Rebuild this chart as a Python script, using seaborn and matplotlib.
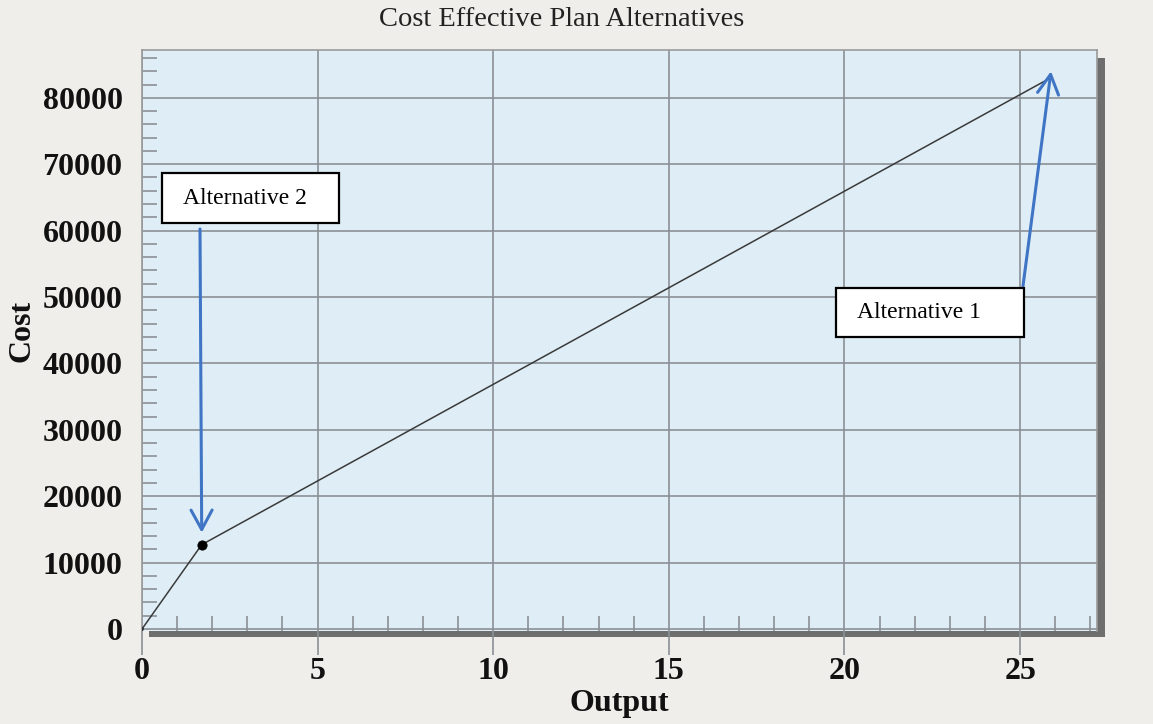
import matplotlib
matplotlib.use("Agg")
import matplotlib.pyplot as plt
from matplotlib.patches import Rectangle
from matplotlib.ticker import MultipleLocator
import seaborn as sns
import pandas as pd

# Cost-effectiveness frontier: output vs cost for the plan alternatives
output = [0.0, 1.7, 25.9]
cost = [0, 12700, 83100]
point_labels = ["Origin", "Alternative 2", "Alternative 1"]

title = "Cost Effective Plan Alternatives"
x_label = "Output"
y_label = "Cost"
x_ticks = [0, 5, 10, 15, 20, 25]
y_ticks = [0, 10000, 20000, 30000, 40000, 50000, 60000, 70000, 80000]

df = pd.DataFrame({"Output": output, "Cost": cost, "Label": point_labels})

sns.set_theme(style="white")
plt.rcParams["font.family"] = ["Liberation Serif", "DejaVu Serif"]

W, H = 1153, 724
fig = plt.figure(figsize=(W / 100, H / 100), dpi=100)
fig.patch.set_facecolor("#f0eeea")


def fx(px):
    return px / W


def fy(py):
    return 1 - py / H


# plot frame in pixel terms
L, R, T, B = 142, 1097, 50, 631
ax = fig.add_axes([fx(L), fy(B), fx(R - L), (B - T) / H])
ax.set_facecolor("#dfeef6")

# drop shadow behind the plot frame
shadow = Rectangle((fx(L + 7), fy(B + 6)), fx(R - L + 1), (B - T - 2) / H,
                   transform=fig.transFigure, facecolor="#6e6e6e",
                   edgecolor="none", zorder=-1)
fig.patches.append(shadow)

sns.lineplot(data=df, x="Output", y="Cost", ax=ax, color="#3a3a3a",
             linewidth=1.1, zorder=3, sort=False)
sns.scatterplot(data=df.iloc[[1]], x="Output", y="Cost", ax=ax,
                color="black", s=45, zorder=4, edgecolor="black")
sns.scatterplot(data=df.iloc[[0]], x="Output", y="Cost", ax=ax,
                color="#333333", s=8, zorder=4, edgecolor="none")

ax.set_xlim(0, 27.19)
ax.set_ylim(-300, 87200)
ax.set_xticks(x_ticks)
ax.set_yticks(y_ticks)
ax.xaxis.set_minor_locator(MultipleLocator(1))
ax.yaxis.set_minor_locator(MultipleLocator(2000))

grid_col = "#8a9095"
ax.grid(True, which="major", color=grid_col, linewidth=1.2, zorder=1)
ax.set_axisbelow(True)

for side in ("left", "top", "right"):
    ax.spines[side].set_color("#9a9a9a")
    ax.spines[side].set_linewidth(1.2)
ax.spines["bottom"].set_visible(False)

ax.tick_params(axis="y", which="major", direction="out", length=10,
               width=1.2, color=grid_col, pad=4, labelsize=23,
               labelcolor="#111111")
ax.tick_params(axis="x", which="major", direction="out", length=17,
               width=1.2, color=grid_col, pad=2, labelsize=23,
               labelcolor="#111111", bottom=True)
ax.tick_params(axis="both", which="minor", direction="in", length=11,
               width=1.2, color=grid_col)
ax.tick_params(axis="x", which="minor", bottom=True)
ax.tick_params(axis="y", which="minor", left=True)
for lab in ax.get_xticklabels() + ax.get_yticklabels():
    lab.set_fontweight("bold")

ax.set_xlabel("")
ax.set_ylabel("")
fig.text(fx(619), fy(704), x_label, ha="center", va="center",
         fontsize=23, fontweight="bold", color="#111111")
fig.text(fx(22), fy(331), y_label, ha="center", va="center", rotation=90,
         fontsize=23, fontweight="bold", color="#111111")
fig.text(fx(562), fy(19), title, ha="center", va="center",
         fontsize=20.5, color="#222222")

# callout boxes with arrows to the alternatives
box_specs = [
    ("Alternative 2", (162, 173, 339, 223), (200, 229), (output[1], cost[1] + 1800)),
    ("Alternative 1", (836, 288, 1024, 337), (1023, 286), (output[2] - 0.02, cost[2] + 900)),
]
arrow_col = "#3f75c4"
for text, (x0, y0, x1, y1), start, tip in box_specs:
    fig.patches.append(Rectangle((fx(x0), fy(y1)), fx(x1 - x0), (y1 - y0) / H,
                                 transform=fig.transFigure, facecolor="white",
                                 edgecolor="black", linewidth=1.6, zorder=5))
    fig.text(fx(x0 + 21), fy((y0 + y1) / 2), text, ha="left", va="center",
             fontsize=17, color="black", zorder=6)
    ax.annotate("", xy=tip, xycoords="data",
                xytext=(fx(start[0]), fy(start[1])), textcoords="figure fraction",
                arrowprops=dict(arrowstyle="->,head_length=0.7,head_width=0.38",
                                color=arrow_col, lw=2.2, mutation_scale=20,
                                shrinkA=0, shrinkB=0),
                zorder=7, annotation_clip=False)

fig.savefig("out.png", dpi=100, facecolor=fig.get_facecolor())
